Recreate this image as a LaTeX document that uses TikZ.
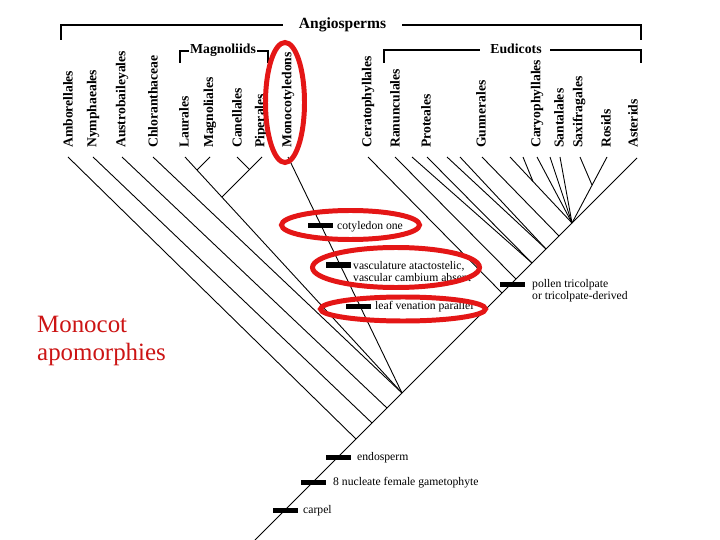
\documentclass[tikz,border=0pt]{standalone}
\usepackage{fontspec}
\setmainfont{Liberation Serif}
\definecolor{hired}{RGB}{228,22,22}
\definecolor{monored}{RGB}{204,20,20}
\begin{document}
\begin{tikzpicture}[x=1bp,y=-1bp,
  branch/.style={line width=0.9pt},
  bracket/.style={line width=2.3pt},
  taxon/.style={rotate=90, anchor=west, inner sep=0pt, font=\fontsize{13.7}{14}\selectfont\bfseries},
  grouplabel/.style={anchor=base, inner sep=0pt, font=\fontsize{13.8}{14}\selectfont\bfseries},
  charbar/.style={fill=black, draw=none, minimum width=25bp, minimum height=5bp, inner sep=0pt},
  chartext/.style={inner sep=0pt, font=\fontsize{11.7}{12}\selectfont, align=left},
  hilite/.style={draw=hired, line width=5pt},
]
\useasboundingbox (0,0) rectangle (720,540);

% ---- taxon labels ----
\foreach \nm/\x/\txt in {amb/68/Amborellales, nym/93/Nymphaeales, aus/122/Austrobaileyales,
  chl/153/Chloranthaceae, lau/184/Laurales, mag/210/Magnoliales, can/237/Canellales,
  pip/261/Piperales, mon/288/Monocotyledons, cer/368/Ceratophyllales, ran/395/Ranunculales,
  pro/426/Proteales, gun/481/Gunnerales, car/537/Caryophyllales, san/559/Santalales,
  sax/579/Saxifragales, ros/606/Rosids, ast/633/Asterids}
  {\node[taxon] (l-\nm) at (\x,148) {\txt};}

% ---- tips ----
\foreach \nm/\x in {amb/68, nym/93, aus/122, chl/153, lau/185, mag/210, can/237, pip/262,
  mon/288, cer/368, ran/395, ua/412, pro/427, ub/447, uc/460, gun/482, ud/510, ue/523,
  car/537, uf/550, san/560, sax/580, ros/607}
  {\coordinate (t-\nm) at (\x,157);}
\coordinate (t-ast) at (637,158);

% ---- internal nodes ----
\coordinate (root) at (255,540);
\coordinate (nA) at (356,439);
\coordinate (nN) at (372,423);
\coordinate (nAu) at (387,408);
\coordinate (nM) at (402,393);
\coordinate (nC) at (502,293);
\coordinate (nR) at (516,279);
\coordinate (nP) at (532,263);
\coordinate (nQ) at (546,249);
\coordinate (nG) at (559,236);
\coordinate (nCore) at (572,223);
\coordinate (nLM) at (197,170);
\coordinate (nCP) at (249.5,169.5);
\coordinate (nMag) at (222,197);
\coordinate (nSR) at (592,185);
\coordinate (nDE) at (533,181.5);

% ---- branches ----
\draw[branch] (root) -- (t-ast);
\draw[branch] (t-amb) -- (nA);
\draw[branch] (t-nym) -- (nN);
\draw[branch] (t-aus) -- (nAu);
\draw[branch] (t-chl) -- (nM);
\draw[branch] (t-lau) -- (nM);
\draw[branch] (t-mag) -- (nLM);
\draw[branch] (t-can) -- (nCP);
\draw[branch] (t-pip) -- (nCP);
\draw[branch] (nCP) -- (nMag);
\draw[branch] (t-mon) -- (nM);
\draw[branch] (t-cer) -- (nC);
\draw[branch] (t-ran) -- (nR);
\draw[branch] (t-ua) -- (nP);
\draw[branch] (t-pro) -- (nP);
\draw[branch] (t-ub) -- (nQ);
\draw[branch] (t-uc) -- (nQ);
\draw[branch] (t-gun) -- (nG);
\draw[branch] (t-ud) -- (nCore);
\draw[branch] (t-ue) -- (nDE);
\draw[branch] (t-car) -- (nCore);
\draw[branch] (t-uf) -- (nCore);
\draw[branch] (t-san) -- (nCore);
\draw[branch] (t-ros) -- (nCore);
\draw[branch] (t-sax) -- (nSR);

% ---- group brackets ----
\node[grouplabel, font=\fontsize{15.6}{16}\selectfont\bfseries] (angio) at (342.5,29) {Angiosperms};
\coordinate (ag-l) at (61,40);
\coordinate (ag-lc) at (61,25);
\coordinate (ag-la) at (283,25);
\coordinate (ag-ra) at (402,25);
\coordinate (ag-rc) at (641,25);
\coordinate (ag-r) at (641,40);
\draw[bracket] (ag-l) -- (ag-lc) -- (ag-la);
\draw[bracket] (ag-ra) -- (ag-rc) -- (ag-r);

\node[grouplabel] (magno) at (223,54) {Magnoliids};
\coordinate (mg-l) at (180,63);
\coordinate (mg-lc) at (180,51);
\coordinate (mg-la) at (189,51);
\coordinate (mg-ra) at (257,51);
\coordinate (mg-rc) at (268,51);
\coordinate (mg-r) at (268,63);
\draw[bracket] (mg-l) -- (mg-lc) -- (mg-la);
\draw[bracket] (mg-ra) -- (mg-rc) -- (mg-r);

\node[grouplabel] (eudi) at (516,54) {Eudicots};
\coordinate (eu-l) at (384,63);
\coordinate (eu-lc) at (384,50);
\coordinate (eu-la) at (480,50);
\coordinate (eu-ra) at (550,50);
\coordinate (eu-rc) at (641,50);
\coordinate (eu-r) at (641,63);
\draw[bracket] (eu-l) -- (eu-lc) -- (eu-la);
\draw[bracket] (eu-ra) -- (eu-rc) -- (eu-r);

% ---- character bars and texts ----
\node[charbar] (b-cot) at (320,226) {};
\node[chartext, anchor=base west] (c-cot) at (337,229.5) {cotyledon one};
\node[charbar] (b-vas) at (338,265) {};
\node[chartext, anchor=west] (c-vas) at (353,271.5) {vasculature atactostelic,\\vascular cambium absent};
\node[charbar] (b-leaf) at (358,306) {};
\node[chartext, anchor=base west] (c-leaf) at (375,309.5) {leaf venation parallel};
\node[charbar] (b-pol) at (512,284) {};
\node[chartext, anchor=west] (c-pol) at (532,290.5) {pollen tricolpate\\or tricolpate-derived};
\node[charbar] (b-endo) at (338,457) {};
\node[chartext, anchor=base west] (c-endo) at (357,460.5) {endosperm};
\node[charbar] (b-gam) at (313,482) {};
\node[chartext, anchor=base west] (c-gam) at (333,485.5) {8 nucleate female gametophyte};
\node[charbar] (b-carp) at (285,510) {};
\node[chartext, anchor=base west] (c-carp) at (303,513.5) {carpel};

% ---- caption ----
\node[anchor=north west, inner sep=0pt, align=left, text=monored,
  font=\fontsize{25}{29}\selectfont] (apo) at (37,315.5) {Monocot\\apomorphies};

% ---- red highlights ----
\draw[hilite] (285,102.5) ellipse [x radius=19.5, y radius=60];
\draw[hilite] (350.5,225) ellipse [x radius=69, y radius=14.5];
\draw[hilite] (396,267.5) ellipse [x radius=83.5, y radius=20];
\draw[hilite] (403,309) ellipse [x radius=82.5, y radius=12];
\end{tikzpicture}
\end{document}
